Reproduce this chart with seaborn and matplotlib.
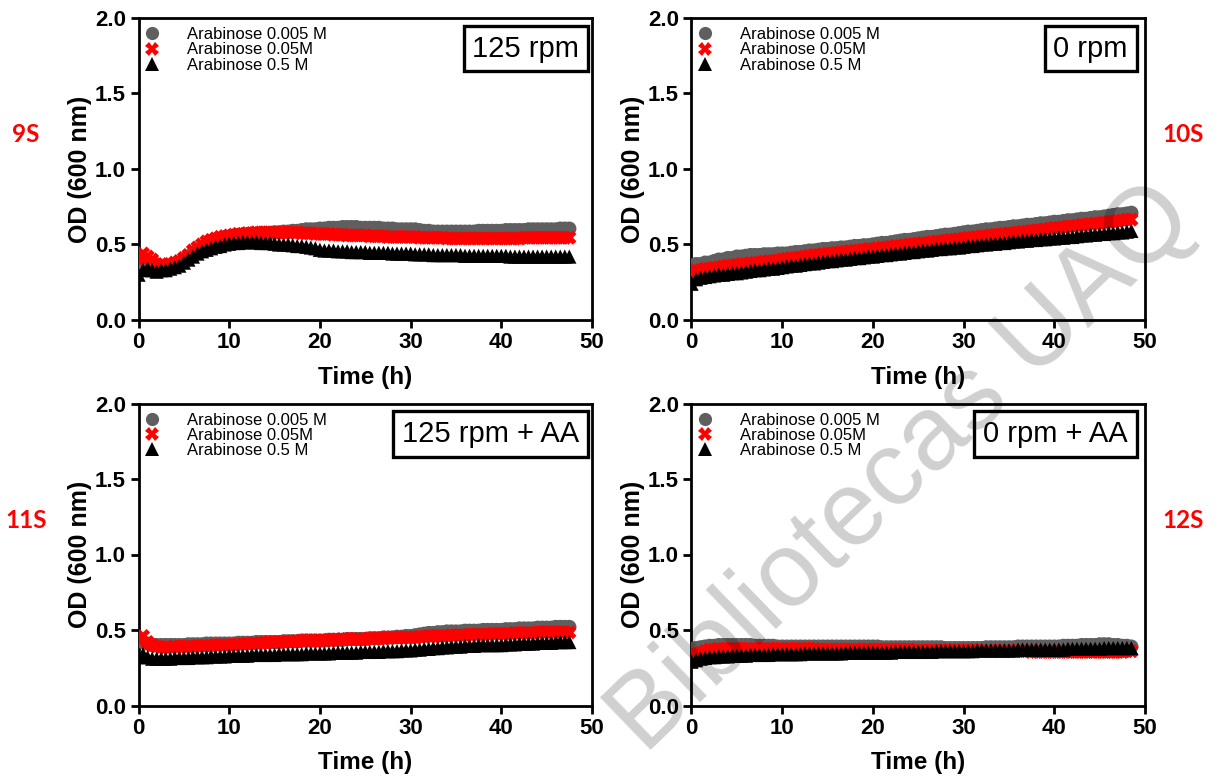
import numpy as np
import pandas as pd
import matplotlib
matplotlib.use("Agg")
import matplotlib.pyplot as plt
import seaborn as sns

# ---------------- data (OD600 read every 0.5 h) ----------------
STEP_H = 0.5
series_labels = ["Arabinose 0.005 M", "Arabinose 0.05M", "Arabinose 0.5 M"]
panel_titles = ["125 rpm", "0 rpm", "125 rpm + AA", "0 rpm + AA"]
strain_labels = ["9S", "10S", "11S", "12S"]
x_ticks = [0, 10, 20, 30, 40, 50]
y_ticks = [0.0, 0.5, 1.0, 1.5, 2.0]

p1_low = [0.38,0.38,0.37,0.36,0.35,0.35,0.35,0.36,0.37,0.38,
          0.40,0.42,0.44,0.46,0.48,0.50,0.51,0.52,0.53,0.54,
          0.55,0.555,0.56,0.56,0.565,0.57,0.57,0.57,0.575,0.575,
          0.58,0.58,0.585,0.585,0.59,0.59,0.595,0.60,0.60,0.60,
          0.605,0.605,0.61,0.61,0.61,0.615,0.615,0.615,0.615,0.61,
          0.61,0.61,0.61,0.61,0.605,0.605,0.605,0.60,0.60,0.60,
          0.60,0.60,0.595,0.59,0.59,0.585,0.585,0.585,0.585,0.585,
          0.585,0.585,0.585,0.585,0.585,0.59,0.59,0.59,0.59,0.59,
          0.59,0.595,0.595,0.595,0.595,0.595,0.60,0.60,0.60,0.60,
          0.60,0.60,0.60,0.605,0.605,0.605]
p1_mid = [0.40,0.44,0.42,0.40,0.37,0.37,0.36,0.37,0.38,0.39,
          0.41,0.43,0.46,0.48,0.50,0.52,0.53,0.54,0.55,0.555,
          0.56,0.565,0.57,0.57,0.575,0.575,0.58,0.58,0.58,0.58,
          0.58,0.58,0.58,0.58,0.58,0.58,0.575,0.575,0.575,0.57,
          0.57,0.57,0.57,0.565,0.565,0.565,0.56,0.56,0.56,0.56,
          0.56,0.555,0.555,0.555,0.555,0.55,0.55,0.55,0.55,0.55,
          0.55,0.55,0.545,0.545,0.545,0.545,0.545,0.545,0.54,0.54,
          0.54,0.54,0.54,0.54,0.54,0.54,0.54,0.54,0.54,0.54,
          0.54,0.54,0.54,0.54,0.54,0.545,0.545,0.545,0.545,0.545,
          0.545,0.545,0.545,0.545,0.545,0.545]
p1_high = [0.30,0.33,0.34,0.33,0.32,0.33,0.33,0.34,0.35,0.36,
           0.38,0.40,0.42,0.44,0.455,0.465,0.475,0.485,0.49,0.50,
           0.505,0.51,0.51,0.515,0.515,0.515,0.515,0.51,0.51,0.51,
           0.505,0.50,0.50,0.50,0.495,0.49,0.49,0.485,0.48,0.475,
           0.465,0.46,0.46,0.46,0.455,0.455,0.455,0.45,0.45,0.45,
           0.45,0.445,0.445,0.445,0.445,0.445,0.44,0.44,0.44,0.44,
           0.44,0.435,0.435,0.435,0.435,0.43,0.43,0.43,0.43,0.43,
           0.43,0.43,0.425,0.425,0.425,0.425,0.425,0.425,0.425,0.425,
           0.425,0.425,0.42,0.42,0.42,0.42,0.42,0.42,0.42,0.42,
           0.42,0.42,0.42,0.42,0.42,0.42]

p2_low = [0.36,0.37,0.37,0.38,0.38,0.39,0.40,0.40,0.41,0.41,
          0.42,0.42,0.425,0.43,0.43,0.43,0.435,0.435,0.435,0.44,
          0.44,0.44,0.445,0.45,0.45,0.455,0.46,0.46,0.465,0.47,
          0.47,0.475,0.475,0.48,0.48,0.485,0.49,0.49,0.495,0.495,
          0.50,0.505,0.51,0.51,0.515,0.52,0.525,0.53,0.53,0.535,
          0.54,0.545,0.55,0.55,0.555,0.56,0.565,0.565,0.57,0.575,
          0.58,0.585,0.585,0.59,0.595,0.60,0.60,0.605,0.61,0.61,
          0.615,0.62,0.62,0.625,0.63,0.63,0.635,0.64,0.64,0.645,
          0.65,0.65,0.655,0.66,0.66,0.665,0.67,0.67,0.675,0.68,
          0.68,0.685,0.69,0.695,0.70,0.70,0.705,0.71]
p2_mid = [0.32,0.33,0.33,0.34,0.34,0.345,0.35,0.355,0.36,0.36,
          0.365,0.37,0.37,0.375,0.38,0.38,0.385,0.39,0.39,0.395,
          0.40,0.405,0.41,0.41,0.415,0.42,0.425,0.43,0.43,0.435,
          0.44,0.44,0.445,0.45,0.45,0.455,0.46,0.46,0.465,0.47,
          0.47,0.475,0.48,0.48,0.485,0.49,0.49,0.495,0.50,0.50,
          0.505,0.51,0.51,0.515,0.52,0.52,0.525,0.53,0.53,0.535,
          0.54,0.545,0.545,0.55,0.555,0.555,0.56,0.565,0.565,0.57,
          0.575,0.575,0.58,0.585,0.585,0.59,0.595,0.595,0.60,0.605,
          0.61,0.61,0.615,0.62,0.62,0.625,0.63,0.63,0.635,0.64,
          0.64,0.645,0.65,0.65,0.655,0.66,0.665,0.665]
p2_high = [0.24,0.27,0.28,0.285,0.29,0.295,0.30,0.30,0.305,0.31,
           0.31,0.315,0.32,0.325,0.33,0.33,0.335,0.34,0.34,0.345,
           0.35,0.355,0.36,0.36,0.365,0.37,0.375,0.375,0.38,0.385,
           0.39,0.39,0.395,0.40,0.40,0.405,0.41,0.41,0.415,0.42,
           0.42,0.425,0.43,0.43,0.435,0.44,0.44,0.445,0.45,0.45,
           0.455,0.46,0.46,0.465,0.47,0.47,0.475,0.475,0.48,0.48,
           0.485,0.49,0.49,0.495,0.50,0.50,0.505,0.505,0.51,0.51,
           0.515,0.52,0.52,0.525,0.525,0.53,0.53,0.535,0.535,0.54,
           0.54,0.545,0.545,0.55,0.55,0.555,0.56,0.56,0.565,0.565,
           0.57,0.57,0.575,0.575,0.58,0.58,0.585,0.59]

p3_low = [0.43,0.42,0.41,0.40,0.40,0.40,0.40,0.40,0.40,0.40,
          0.40,0.405,0.405,0.405,0.405,0.41,0.41,0.41,0.41,0.41,
          0.41,0.41,0.415,0.415,0.415,0.415,0.42,0.42,0.42,0.42,
          0.42,0.42,0.425,0.425,0.425,0.425,0.43,0.43,0.43,0.43,
          0.43,0.43,0.435,0.435,0.435,0.435,0.44,0.44,0.44,0.44,
          0.44,0.445,0.445,0.445,0.45,0.45,0.45,0.455,0.455,0.46,
          0.46,0.465,0.47,0.475,0.48,0.48,0.485,0.485,0.49,0.49,
          0.49,0.49,0.495,0.495,0.495,0.495,0.50,0.50,0.50,0.50,
          0.50,0.505,0.505,0.505,0.51,0.51,0.51,0.51,0.515,0.515,
          0.515,0.515,0.52,0.52,0.52,0.52]
p3_mid = [0.44,0.46,0.42,0.40,0.39,0.385,0.385,0.385,0.39,0.39,
          0.39,0.39,0.39,0.395,0.395,0.395,0.395,0.40,0.40,0.40,
          0.40,0.40,0.405,0.405,0.41,0.41,0.41,0.415,0.415,0.42,
          0.42,0.42,0.42,0.425,0.425,0.425,0.43,0.43,0.43,0.43,
          0.43,0.43,0.435,0.435,0.435,0.44,0.44,0.44,0.44,0.44,
          0.44,0.445,0.445,0.445,0.445,0.45,0.45,0.45,0.45,0.45,
          0.45,0.45,0.455,0.455,0.46,0.46,0.46,0.46,0.46,0.465,
          0.465,0.465,0.465,0.47,0.47,0.47,0.47,0.47,0.475,0.475,
          0.475,0.475,0.475,0.48,0.48,0.48,0.48,0.48,0.485,0.485,
          0.485,0.485,0.485,0.485,0.485,0.485]
p3_high = [0.32,0.34,0.32,0.31,0.31,0.31,0.31,0.31,0.315,0.315,
           0.315,0.315,0.32,0.32,0.32,0.32,0.325,0.325,0.325,0.325,
           0.33,0.33,0.33,0.33,0.33,0.335,0.335,0.335,0.335,0.335,
           0.335,0.34,0.34,0.34,0.34,0.34,0.34,0.345,0.345,0.345,
           0.345,0.345,0.345,0.35,0.35,0.35,0.35,0.35,0.35,0.355,
           0.355,0.355,0.355,0.355,0.36,0.36,0.36,0.36,0.365,0.365,
           0.365,0.37,0.37,0.375,0.375,0.38,0.38,0.385,0.385,0.39,
           0.39,0.39,0.395,0.395,0.395,0.40,0.40,0.40,0.40,0.40,
           0.40,0.405,0.405,0.405,0.41,0.41,0.41,0.41,0.415,0.415,
           0.415,0.415,0.42,0.42,0.42,0.42]

p4_low = [0.375,0.38,0.385,0.39,0.395,0.395,0.40,0.40,0.40,0.40,
          0.40,0.40,0.40,0.40,0.395,0.395,0.395,0.395,0.395,0.39,
          0.39,0.39,0.39,0.39,0.39,0.39,0.39,0.39,0.39,0.39,
          0.39,0.39,0.39,0.39,0.39,0.39,0.39,0.39,0.39,0.39,
          0.39,0.39,0.385,0.385,0.385,0.385,0.385,0.385,0.385,0.385,
          0.385,0.385,0.385,0.385,0.385,0.385,0.38,0.38,0.38,0.38,
          0.38,0.38,0.38,0.38,0.38,0.385,0.385,0.385,0.385,0.385,
          0.385,0.385,0.39,0.39,0.39,0.39,0.39,0.39,0.39,0.39,
          0.39,0.39,0.395,0.395,0.395,0.395,0.40,0.40,0.40,0.40,
          0.405,0.405,0.405,0.40,0.40,0.395,0.395,0.39]
p4_mid = [0.33,0.34,0.35,0.36,0.37,0.37,0.375,0.375,0.375,0.375,
          0.375,0.375,0.375,0.375,0.375,0.375,0.375,0.375,0.375,0.375,
          0.375,0.375,0.375,0.375,0.375,0.375,0.375,0.375,0.37,0.37,
          0.37,0.37,0.37,0.37,0.37,0.37,0.37,0.37,0.37,0.37,
          0.37,0.37,0.37,0.37,0.37,0.37,0.37,0.37,0.37,0.365,
          0.365,0.365,0.365,0.365,0.365,0.365,0.365,0.365,0.365,0.365,
          0.365,0.365,0.365,0.365,0.36,0.36,0.36,0.36,0.36,0.36,
          0.36,0.36,0.36,0.36,0.36,0.355,0.355,0.355,0.355,0.355,
          0.355,0.355,0.355,0.355,0.355,0.355,0.355,0.355,0.355,0.355,
          0.355,0.355,0.355,0.355,0.355,0.355,0.36,0.36]
p4_high = [0.29,0.30,0.31,0.315,0.32,0.32,0.325,0.325,0.325,0.33,
           0.33,0.33,0.33,0.335,0.335,0.335,0.335,0.335,0.34,0.34,
           0.34,0.34,0.34,0.34,0.34,0.345,0.345,0.345,0.345,0.345,
           0.345,0.345,0.345,0.345,0.35,0.35,0.35,0.35,0.35,0.35,
           0.35,0.35,0.35,0.35,0.35,0.355,0.355,0.355,0.355,0.355,
           0.355,0.355,0.355,0.355,0.36,0.36,0.36,0.36,0.36,0.36,
           0.36,0.36,0.36,0.365,0.365,0.365,0.365,0.365,0.365,0.365,
           0.365,0.365,0.37,0.37,0.37,0.37,0.37,0.37,0.37,0.37,
           0.37,0.37,0.37,0.375,0.375,0.375,0.375,0.375,0.375,0.375,
           0.375,0.38,0.38,0.38,0.38,0.38,0.38,0.38]

panels = [(p1_low, p1_mid, p1_high), (p2_low, p2_mid, p2_high),
          (p3_low, p3_mid, p3_high), (p4_low, p4_mid, p4_high)]

# ---------------- style ----------------
sns.set_theme(style="ticks")
plt.rcParams["font.family"] = ["Liberation Sans", "DejaVu Sans"]
plt.rcParams["text.color"] = "black"
plt.rcParams["axes.labelcolor"] = "black"
plt.rcParams["xtick.color"] = "black"
plt.rcParams["ytick.color"] = "black"

palette = {series_labels[0]: "#5f5f5f", series_labels[1]: "#ff0000", series_labels[2]: "#000000"}
markers = {series_labels[0]: "o", series_labels[1]: "X", series_labels[2]: "^"}

W, H = 1220, 780
fig = plt.figure(figsize=(W / 100, H / 100), dpi=100)

ax_left = [138.5, 691.5]
ax_top = [18, 403.5]
ax_w, ax_h = 453.5, 302
box_right = [0.972, 0.962, 0.972, 0.962]

for i, (series, title, strain) in enumerate(zip(panels, panel_titles, strain_labels)):
    r, c = divmod(i, 2)
    l = ax_left[c]
    t = ax_top[r]
    ax = fig.add_axes([l / W, 1 - (t + ax_h) / H, ax_w / W, ax_h / H])

    frames = []
    for lab, vals in zip(series_labels, series):
        frames.append(pd.DataFrame({
            "Time (h)": np.arange(len(vals)) * STEP_H,
            "OD": vals,
            "Series": lab,
        }))
    df = pd.concat(frames, ignore_index=True)

    sns.scatterplot(data=df, x="Time (h)", y="OD", hue="Series", style="Series",
                    palette=palette, markers=markers, s=105, linewidth=0,
                    edgecolor="none", ax=ax, legend=True, zorder=3)

    ax.set_xlim(0, 50)
    ax.set_ylim(0, 2.0)
    ax.set_xticks(x_ticks)
    ax.set_yticks(y_ticks)
    ax.set_xticklabels([str(v) for v in x_ticks])
    ax.set_yticklabels([f"{v:.1f}" for v in y_ticks])
    ax.set_xlabel("Time (h)", fontsize=17.5, fontweight="bold", labelpad=9, color="black")
    ax.set_ylabel("OD (600 nm)", fontsize=18, fontweight="bold", labelpad=2, color="black")
    ax.tick_params(axis="both", which="major", length=6, width=2, direction="out",
                   labelsize=16, pad=3, colors="black")
    for lbl in ax.get_xticklabels() + ax.get_yticklabels():
        lbl.set_fontweight("bold")
    for side, sp in ax.spines.items():
        sp.set_visible(True)
        sp.set_color("black")
        sp.set_linewidth(2.0)

    handles, labels = ax.get_legend_handles_labels()
    for h in handles:
        h.set_markersize(9.5)
    leg = ax.legend(handles, labels, loc="upper left", bbox_to_anchor=(0.0, 0.97),
                    frameon=False, fontsize=12, handlelength=1.6, handletextpad=1.3,
                    labelspacing=0.02, borderpad=0.0, borderaxespad=0.0,
                    handleheight=0.7)
    for txt in leg.get_texts():
        txt.set_color("black")

    ax.text(box_right[i], 0.945, title, transform=ax.transAxes,
            ha="right", va="top", fontsize=21, color="black", zorder=5,
            bbox=dict(boxstyle="square,pad=0.3", facecolor="white",
                      edgecolor="black", linewidth=2.4))

    sx = 26 if c == 0 else 1183
    sy = 134 if r == 0 else 520
    fig.text(sx / W, 1 - sy / H, strain, ha="center", va="center",
             fontsize=17.5, fontweight="bold", color="#ff0000",
             family=["Lato", "Liberation Sans", "DejaVu Sans"])

# watermark
fig.text(902 / W, 1 - 469 / H, "Bibliotecas UAQ", ha="center", va="center",
         rotation=44, rotation_mode="anchor", fontsize=76, color="black",
         alpha=0.19, zorder=10)

fig.savefig("out.png", dpi=100)
